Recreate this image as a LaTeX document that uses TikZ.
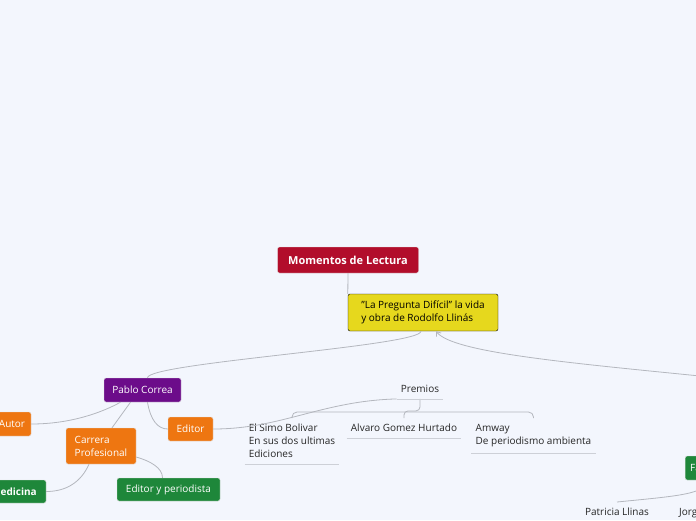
\documentclass[tikz,border=0pt]{standalone}
\usepackage{fontspec}
\setmainfont{Open Sans}
\usetikzlibrary{arrows.meta}

\definecolor{fondo}{HTML}{F3F6FD}
\definecolor{rojo}{HTML}{B20D2B}
\definecolor{amarillo}{HTML}{E6D81D}
\definecolor{morado}{HTML}{6C0C8A}
\definecolor{naranja}{HTML}{EE7611}
\definecolor{verde}{HTML}{1E873A}
\definecolor{linea}{HTML}{B4B7BE}
\definecolor{subrayado}{HTML}{CDD0D7}

\begin{document}
\begin{tikzpicture}[
  x=1pt, y=-1pt,
  font=\fontsize{10}{13}\selectfont,
  tema/.style={rounded corners=2pt, align=left, text=white, inner sep=0pt,
               draw=black!12, line width=0.4pt, minimum height=24pt},
  hoja/.style={align=left, text=black!85, inner xsep=4pt, inner ysep=6pt},
  rama/.style={draw=linea, line width=0.8pt},
  subraya/.style={draw=subrayado, line width=0.7pt},
]
  \useasboundingbox (0,0) rectangle (696,520);
  \fill[fondo] (0,0) rectangle (696,520);
  \clip (0,0) rectangle (696,520);

  % centro del mapa
  \node[tema, fill=rojo, minimum width=141pt, minimum height=26pt,
        font=\fontsize{11}{13}\selectfont\bfseries] (momentos) at (348,260)
    {Momentos de Lectura};
  \node[tema, fill=amarillo, draw=black, text=black, minimum width=150pt,
        minimum height=37pt] (titulo) at (423,312.5)
    {"La Pregunta Difícil" la vida\\y obra de Rodolfo Llinás};

  % rama izquierda
  \node[tema, fill=morado, minimum width=77pt] (pablo) at (142.5,390) {Pablo Correa};
  \node[tema, fill=naranja, minimum width=38pt] (autor) at (12,424) {Autor};
  \node[tema, fill=naranja, minimum width=70pt, minimum height=36pt] (carrera) at (101,446)
    {Carrera\\Profesional};
  \node[tema, fill=naranja, minimum width=45pt] (editor) at (190.5,429) {Editor};
  \node[tema, fill=verde, minimum width=64pt, minimum height=23pt,
        font=\fontsize{10}{13}\selectfont\bfseries] (medicina) at (14,491.5) {Medicina};
  \node[tema, fill=verde, minimum width=103pt, minimum height=23pt] (editorper) at (168.5,489.5)
    {Editor y periodista};

  % premios
  \node[hoja] (premios) at (420,389) {Premios};
  \node[hoja, anchor=north] (simon) at (292,418) {El Simo Bolivar\\En sus dos ultimas\\Ediciones};
  \node[hoja, anchor=north] (alvaro) at (404,418) {Alvaro Gomez Hurtado};
  \node[hoja, anchor=north] (amway) at (533.5,418) {Amway\\De periodismo ambienta};

  % rama derecha
  \node[tema, fill=verde, inner xsep=5pt, anchor=west] (familia) at (685,468) {Familia};
  \node[hoja, anchor=north] (patricia) at (617,502) {Patricia Llinas};
  \node[hoja, anchor=north west] (jorge) at (675,502) {Jorge};
  \coordinate (otra) at (700,376);

  % conexiones
  \draw[rama] (momentos.south) -- (titulo.north west);
  \draw[rama] ([xshift=-2pt]titulo.south) .. controls +(0,15) and +(0,-15) .. ([xshift=5pt]pablo.north);
  \draw[rama, -{Straight Barb[length=4pt,width=6pt]}] (otra)
    .. controls (560,362) and (452,352) .. ([xshift=13pt]titulo.south);
  \draw[rama] ([xshift=-22pt]pablo.south) .. controls +(-18,10) and +(40,0) .. (autor.east);
  \draw[rama] ([xshift=-12pt]pablo.south) -- ([xshift=11pt]carrera.north);
  \draw[rama] ([xshift=5pt]pablo.south) .. controls +(3,18) and +(-10,0) .. (editor.west);
  \draw[rama] ([xshift=-12pt]carrera.south) .. controls +(-8,18) and +(20,0) .. (medicina.east);
  \draw[rama] ([yshift=-11pt]carrera.east) .. controls +(14,4) and +(0,-10) .. ([xshift=-6pt]editorper.north);
  \draw[rama] (editor.east) .. controls +(68,0) and +(-75,2) .. (premios.south west);
  \draw[rama, rounded corners=4pt] (premios.south) -- ++(0,12) -| (alvaro.north);
  \draw[rama, rounded corners=5pt] (simon.north) -- ++(0,-6) -| (amway.north);
  \draw[rama] (familia.south) .. controls +(0,14) and +(60,-6) .. (patricia.north);

  % subrayados
  \draw[subraya] (premios.south west) -- (premios.south east);
  \draw[subraya] (simon.south west) -- (simon.south east);
  \draw[subraya] (alvaro.south west) -- (alvaro.south east);
  \draw[subraya] (amway.south west) -- (amway.south east);
\end{tikzpicture}
\end{document}
